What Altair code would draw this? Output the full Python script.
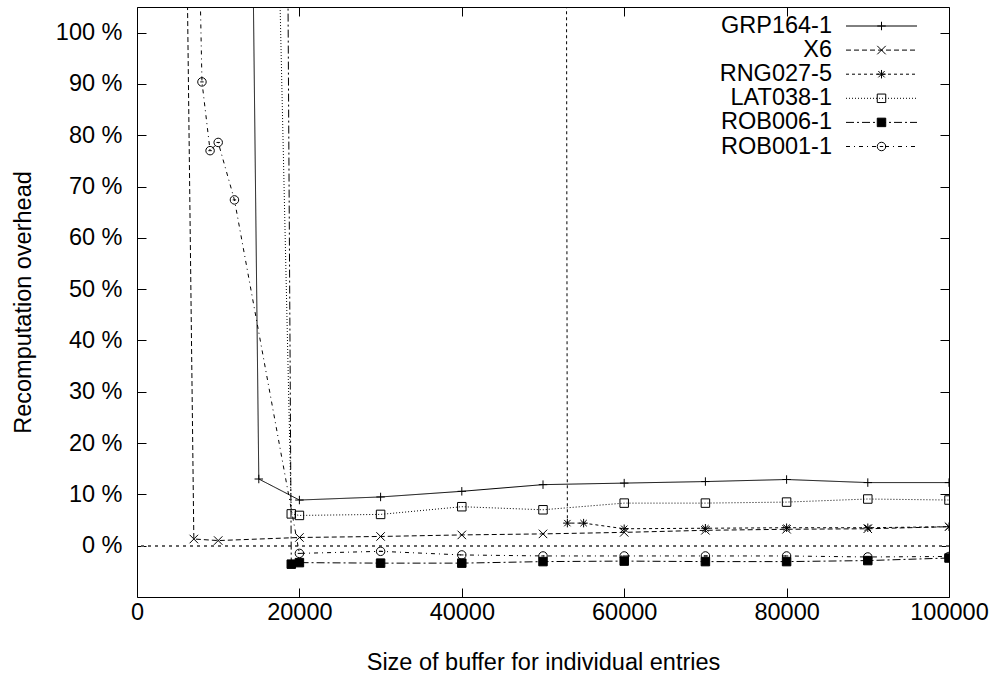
import altair as alt
import pandas as pd

# ---------------- data ----------------
series_names = ["GRP164-1", "X6", "RNG027-5", "LAT038-1", "ROB006-1", "ROB001-1"]

grp_x = [14000, 15000, 20000, 30000, 40000, 50000, 60000, 70000, 80000, 90000, 100000]
grp_y = [153, 13.0, 8.9, 9.5, 10.6, 11.9, 12.2, 12.5, 12.9, 12.3, 12.3]

x6_x = [6000, 7000, 10000, 20000, 30000, 40000, 50000, 60000, 70000, 80000, 90000, 100000]
x6_y = [135, 1.3, 1.0, 1.6, 1.8, 2.1, 2.3, 2.6, 3.0, 3.2, 3.3, 3.7]

rng_x = [52000, 53000, 55000, 60000, 70000, 80000, 90000, 100000]
rng_y = [1000, 4.4, 4.4, 3.3, 3.4, 3.5, 3.5, 3.7]

lat_x = [17000, 19000, 20000, 30000, 40000, 50000, 60000, 70000, 80000, 90000, 100000]
lat_y = [150, 6.2, 5.9, 6.1, 7.6, 7.0, 8.3, 8.3, 8.5, 9.1, 8.9]

rob6_x = [18000, 19000, 20000, 30000, 40000, 50000, 60000, 70000, 80000, 90000, 100000]
rob6_y = [269, -3.6, -3.3, -3.4, -3.4, -3.1, -3.0, -3.1, -3.1, -2.9, -2.4]

rob1_x = [7000, 8000, 9000, 10000, 12000, 20000, 30000, 40000, 50000, 60000, 70000, 80000, 90000, 100000]
rob1_y = [170, 90.4, 77.0, 78.6, 67.4, -1.5, -1.1, -1.8, -2.0, -2.0, -2.0, -2.0, -2.2, -2.1]

x_ticks = [0, 20000, 40000, 60000, 80000, 100000]
y_ticks = [0, 10, 20, 30, 40, 50, 60, 70, 80, 90, 100]

x_title = "Size of buffer for individual entries"
y_title = "Recomputation overhead"

# ---------------- styles ----------------
dash_styles = [[1, 0], [5, 3], [3, 3], [1, 2], [8, 3, 2, 3], [4, 4, 1, 4]]
marker_shapes = [
    "M-1,0L1,0M0,-1L0,1",
    "M-1,-1L1,1M-1,1L1,-1",
    "M-1,0L1,0M0,-1L0,1M-0.75,-0.75L0.75,0.75M-0.75,0.75L0.75,-0.75",
    "M-1,-1L1,-1L1,1L-1,1Z",
    "M-1,-1L1,-1L1,1L-1,1Z",
    "M-1,0A1,1,0,1,1,1,0A1,1,0,1,1,-1,0ZM-0.4,0L0.4,0",
]
marker_fills = ["transparent", "transparent", "transparent", "transparent", "black", "transparent"]

FONT = "Liberation Sans"
FS = 23.5
W, H = 812, 590

rows = []
for name, xs, ys in zip(series_names,
                        [grp_x, x6_x, rng_x, lat_x, rob6_x, rob1_x],
                        [grp_y, x6_y, rng_y, lat_y, rob6_y, rob1_y]):
    for xv, yv in zip(xs, ys):
        rows.append({"series": name, "size": xv, "overhead": yv})
df = pd.DataFrame(rows)
legend_df = pd.DataFrame({"series": series_names, "row": list(range(len(series_names)))})

x_scale = alt.Scale(domain=[0, 100000], nice=False, zero=False)
y_scale = alt.Scale(domain=[-10, 105], nice=False, zero=False)
dash_scale = alt.Scale(domain=series_names, range=dash_styles)
shape_scale = alt.Scale(domain=series_names, range=marker_shapes)
fill_scale = alt.Scale(domain=series_names, range=marker_fills)

common_axis = dict(grid=False, domain=False, tickSize=9, offset=-9, tickColor="black",
                   tickWidth=1, labelFont=FONT, labelFontSize=FS, labelColor="black",
                   titleFont=FONT, titleFontSize=FS, titleColor="black",
                   titleFontWeight="normal")

x_axis_bottom = alt.Axis(orient="bottom", values=x_ticks, format="d", labelFlush=False,
                         labelOverlap=False, labelPadding=3, title=x_title,
                         titlePadding=27, **common_axis)
x_axis_top = alt.Axis(orient="top", values=x_ticks, labels=False, title=None, **common_axis)
y_axis_left = alt.Axis(orient="left", values=y_ticks, labelExpr="datum.value + ' %'",
                       labelPadding=15, labelOverlap=False, title=y_title,
                       titlePadding=20, **common_axis)
y_axis_right = alt.Axis(orient="right", values=y_ticks, labels=False, title=None, **common_axis)

base = alt.Chart(df)

zero_line = alt.Chart(df).mark_rule(color="#666666", strokeDash=[3, 4], strokeWidth=1).encode(
    y=alt.YDatum(0, scale=y_scale, axis=None)
)

lines = base.mark_line(clip=True, color="black", strokeWidth=1).encode(
    x=alt.X("size:Q", scale=x_scale, axis=x_axis_bottom),
    y=alt.Y("overhead:Q", scale=y_scale, axis=y_axis_left),
    strokeDash=alt.StrokeDash("series:N", scale=dash_scale, legend=None),
)

points = base.mark_point(clip=True, stroke="black", strokeWidth=1, opacity=1, size=72).encode(
    x=alt.X("size:Q", scale=x_scale, axis=x_axis_top),
    y=alt.Y("overhead:Q", scale=y_scale, axis=y_axis_right),
    shape=alt.Shape("series:N", scale=shape_scale, legend=None),
    fill=alt.Fill("series:N", scale=fill_scale, legend=None),
)

plot = alt.layer(zero_line, lines, points).resolve_axis(x="independent", y="independent")

legend_y = alt.Y("row:Q", scale=alt.Scale(domain=[0, 5], range=[19, 139.5]), axis=None)

leg_text = alt.Chart(legend_df).mark_text(align="right", baseline="middle", font=FONT,
                                          fontSize=FS, color="black").encode(
    x=alt.value(695), y=legend_y, text="series:N"
)
leg_line = alt.Chart(legend_df).mark_rule(color="black", strokeWidth=1).encode(
    x=alt.value(709), x2=alt.value(780), y=legend_y,
    strokeDash=alt.StrokeDash("series:N", scale=dash_scale, legend=None),
)
leg_mark = alt.Chart(legend_df).mark_point(stroke="black", strokeWidth=1, opacity=1, size=72).encode(
    x=alt.value(744.5), y=legend_y,
    shape=alt.Shape("series:N", scale=shape_scale, legend=None),
    fill=alt.Fill("series:N", scale=fill_scale, legend=None),
)

chart = alt.layer(plot, leg_line, leg_mark, leg_text).resolve_scale(y="independent").properties(
    width=W, height=H,
    autosize=alt.AutoSizeParams(type="none"),
    padding={"left": 137, "top": 7, "right": 990 - 137 - W, "bottom": 675 - 7 - H},
    background="white",
).configure_view(stroke="black", strokeWidth=1)

chart.save("out.html", embed_options={"renderer": "svg", "actions": False})
